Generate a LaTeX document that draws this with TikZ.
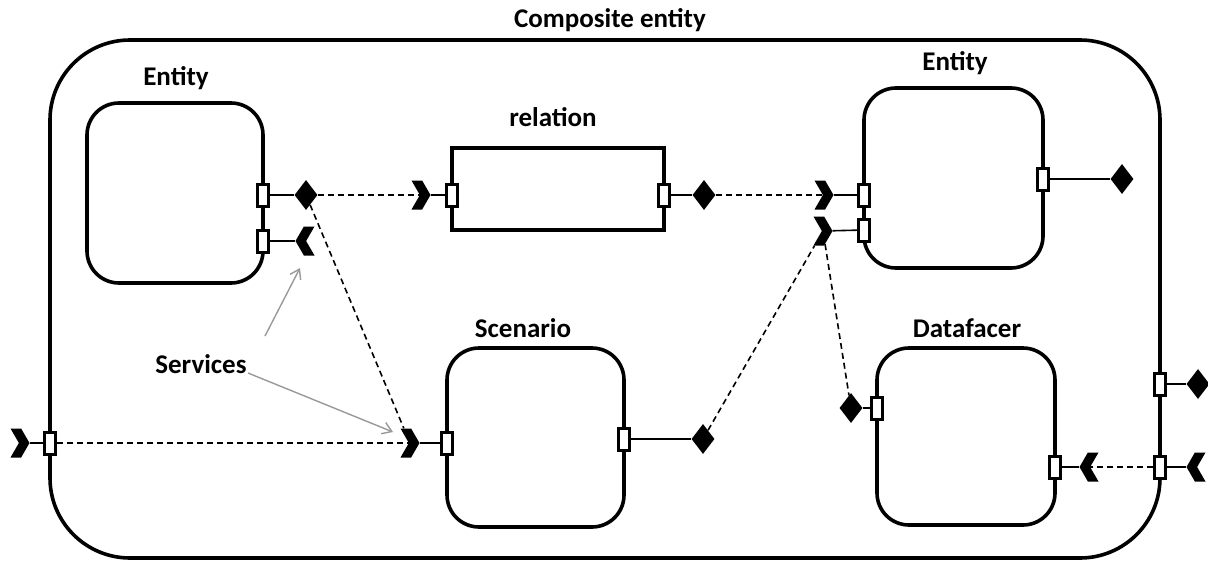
\documentclass[tikz,border=0pt]{standalone}
\usepackage{fontspec}
\setmainfont{Carlito}
\usetikzlibrary{shapes.geometric,shapes.symbols,arrows.meta}
\begin{document}
\begin{tikzpicture}[x=1pt,y=-1pt,
  lbl/.style={font=\bfseries\fontsize{27}{31}\selectfont,inner sep=0pt},
  box/.style={draw,line width=3.6pt,rounded corners=32pt,inner sep=0pt},
  portbox/.style={draw,line width=3pt,fill=white,rectangle,inner sep=0pt,minimum width=11pt,minimum height=22pt},
  dia/.style={diamond,fill=black,inner sep=0pt,minimum width=23pt,minimum height=30pt},
  chevR/.style={signal,signal to=east,signal from=west,signal pointer angle=120,fill=black,inner sep=0pt,minimum width=19pt,minimum height=29pt},
  chevL/.style={signal,signal to=west,signal from=east,signal pointer angle=120,fill=black,inner sep=0pt,minimum width=19pt,minimum height=29pt},
  thin/.style={line width=1.6pt},
  dsh/.style={line width=1.6pt,dash pattern=on 6pt off 4pt},
  svcarrow/.style={draw=black!40,line width=1.4pt,-{Straight Barb[length=9pt,width=12pt]}}
]
\useasboundingbox (0,0) rectangle (1208,562);
% composite
\node[box,rounded corners=80pt,minimum width=1110pt,minimum height=518pt] (ce) at (605,299) {};
\node[lbl] (cetitle) at (610,20) {Composite entity};
% boxes
\node[box,minimum width=176pt,minimum height=180pt] (e1) at (175,193) {};
\node[lbl] (e1t) at (176,78) {Entity};
\node[box,rounded corners=0pt,minimum width=212pt,minimum height=82pt] (rel) at (558,189) {};
\node[lbl] (relt) at (553,117) {relation};
\node[box,minimum width=179pt,minimum height=180pt] (e2) at (953.5,178) {};
\node[lbl] (e2t) at (955,63) {Entity};
\node[box,minimum width=177pt,minimum height=179pt] (sc) at (535.5,437.5) {};
\node[lbl] (sct) at (523,328) {Scenario};
\node[box,minimum width=178pt,minimum height=177pt] (df) at (966,436.5) {};
\node[lbl] (dft) at (967,328) {Datafacer};
% ports
\node[portbox] (e1p1) at (263,195) {};
\node[portbox] (e1p2) at (263,241) {};
\node[portbox] (relpl) at (452,195) {};
\node[portbox] (relpr) at (664,195) {};
\node[portbox] (e2p1) at (864,195) {};
\node[portbox] (e2p2) at (864,230) {};
\node[portbox] (e2p3) at (1043,179) {};
\node[portbox] (scpl) at (447,443) {};
\node[portbox] (scpr) at (624,439) {};
\node[portbox] (dfpl) at (877,408) {};
\node[portbox] (dfpr) at (1055,467) {};
\node[portbox] (cpl) at (50,443) {};
\node[portbox] (cpr1) at (1160,384) {};
\node[portbox] (cpr2) at (1160,467) {};
% diamonds
\node[dia] (e1d) at (306,195) {};
\node[dia] (reld) at (704,195) {};
\node[dia] (e2d) at (1122,179) {};
\node[dia] (scd) at (703,439) {};
\node[dia] (dfd) at (851,408) {};
\node[dia] (cd) at (1198,384) {};
% chevrons
\node[chevL] (e1c) at (305,241) {};
\node[chevR] (relc) at (421,195) {};
\node[chevR] (e2c1) at (824,195) {};
\node[chevR] (e2c2) at (823,231) {};
\node[chevR] (scc) at (410,443) {};
\node[chevL] (dfc) at (1089,467) {};
\node[chevR] (cc) at (20,443) {};
\node[chevL] (cc2) at (1196,467) {};
% thin port links
\draw[thin] (e1p1) -- (e1d);
\draw[thin] (e1p2) -- (e1c);
\draw[thin] (relc) -- (relpl);
\draw[thin] (relpr) -- (reld);
\draw[thin] (e2c1) -- (e2p1);
\draw[thin] (e2c2) -- (e2p2);
\draw[thin] (e2p3) -- (e2d);
\draw[thin] (scc) -- (scpl);
\draw[thin] (scpr) -- (scd);
\draw[thin] (dfd) -- (dfpl);
\draw[thin] (dfpr) -- (dfc);
\draw[thin] (cc) -- (cpl);
\draw[thin] (cpr1) -- (cd);
\draw[thin] (cpr2) -- (cc2);
% dashed links
\draw[dsh] (e1d) -- (relc);
\draw[dsh] (e1d) -- (scc);
\draw[dsh] (reld) -- (e2c1);
\draw[dsh] (scd) -- (e2c2);
\draw[dsh] (e2c2) -- (dfd);
\draw[dsh] (cpl) -- (scc);
\draw[dsh] (cpr2) -- (dfc);
% services
\node[lbl] (svc) at (201,364) {Services};
\coordinate (s1) at (265,336);
\coordinate (s2) at (248,373);
\coordinate (t1) at (300,268);
\coordinate (t2) at (393,432);
\draw[svcarrow] (s1) -- (t1);
\draw[svcarrow] (s2) -- (t2);
\end{tikzpicture}
\end{document}
